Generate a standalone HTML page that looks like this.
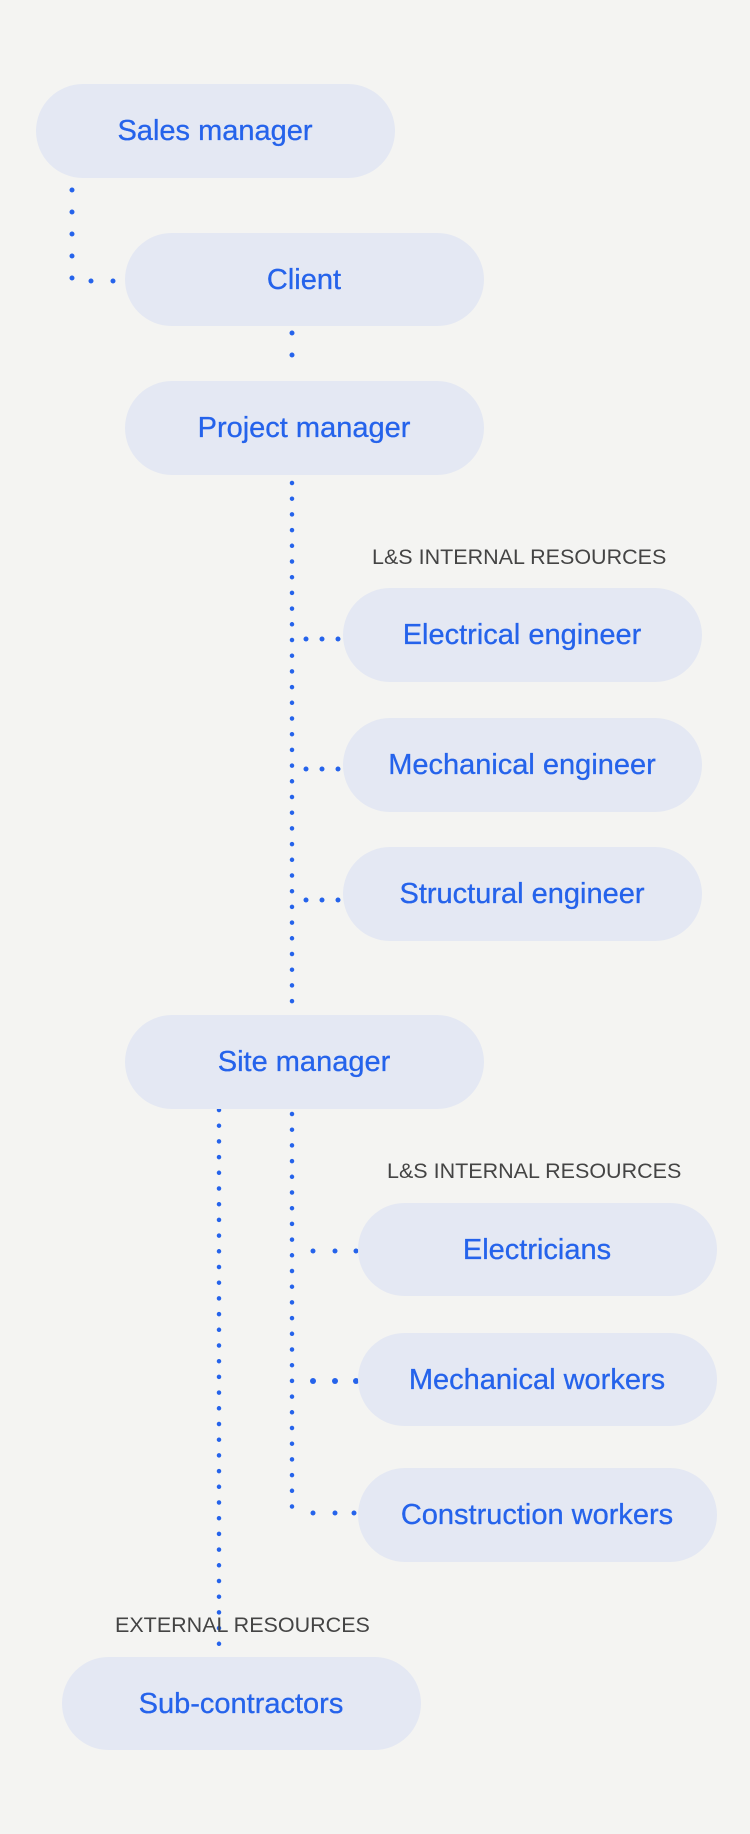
<!DOCTYPE html>
<html><head><meta charset="utf-8"><style>
html,body{margin:0;padding:0;background:#f4f4f2;}
svg{display:block}
.n{fill:#e4e8f3}
.t{font-family:"Liberation Sans",sans-serif;font-size:29px;fill:#2563eb;text-anchor:middle;dominant-baseline:central;stroke:#2563eb;stroke-width:0.3}
.l{font-family:"Liberation Sans",sans-serif;font-size:21.5px;fill:#444;text-anchor:start;dominant-baseline:central}
.d{stroke:#2563eb;stroke-width:5;stroke-linecap:round;stroke-dasharray:0 22;fill:none}
.v{stroke:#2563eb;stroke-width:4.5;stroke-linecap:round;stroke-dasharray:0 15.7;fill:none}
.c{fill:#2563eb}
</style></head><body>
<svg width="750" height="1834" viewBox="0 0 750 1834" xmlns="http://www.w3.org/2000/svg">
<rect width="750" height="1834" fill="#f4f4f2"/>
<!-- connectors -->
<path class="d" d="M72 190 V281 H117"/>
<path class="d" d="M292 333 V377"/>
<path class="v" d="M292 483 V1011"/>
<g class="c">
<circle cx="306" cy="639" r="2.5"/><circle cx="322" cy="639" r="2.5"/><circle cx="338" cy="639" r="2.5"/>
<circle cx="306" cy="769" r="2.5"/><circle cx="322" cy="769" r="2.5"/><circle cx="338" cy="769" r="2.5"/>
<circle cx="306" cy="900" r="2.5"/><circle cx="322" cy="900" r="2.5"/><circle cx="338" cy="900" r="2.5"/>
<circle cx="313" cy="1251" r="2.5"/><circle cx="335" cy="1251" r="2.5"/><circle cx="356" cy="1251" r="2.5"/>
<circle cx="313" cy="1381" r="3"/><circle cx="335" cy="1381" r="3"/><circle cx="356" cy="1381" r="3"/>
<circle cx="313" cy="1513" r="2.5"/><circle cx="335" cy="1513" r="2.5"/><circle cx="354" cy="1513" r="2.5"/>
</g>
<path class="v" d="M292 1114 V1513"/>
<path class="v" d="M219 1110 V1654"/>
<!-- nodes -->
<rect class="n" x="36" y="84" width="359" height="94" rx="47"/>
<text class="t" x="215" y="131">Sales manager</text>
<rect class="n" x="125" y="233" width="359" height="93" rx="46.5"/>
<text class="t" x="304" y="280">Client</text>
<rect class="n" x="125" y="381" width="359" height="94" rx="47"/>
<text class="t" x="304" y="428">Project manager</text>
<text class="l" x="372" y="557">L&amp;S INTERNAL RESOURCES</text>
<rect class="n" x="343" y="588" width="359" height="94" rx="47"/>
<text class="t" x="522" y="635">Electrical engineer</text>
<rect class="n" x="343" y="718" width="359" height="94" rx="47"/>
<text class="t" x="522" y="765">Mechanical engineer</text>
<rect class="n" x="343" y="847" width="359" height="94" rx="47"/>
<text class="t" x="522" y="894">Structural engineer</text>
<rect class="n" x="125" y="1015" width="359" height="94" rx="47"/>
<text class="t" x="304" y="1062">Site manager</text>
<text class="l" x="387" y="1171">L&amp;S INTERNAL RESOURCES</text>
<rect class="n" x="358" y="1203" width="359" height="93" rx="46.5"/>
<text class="t" x="537" y="1250">Electricians</text>
<rect class="n" x="358" y="1333" width="359" height="93" rx="46.5"/>
<text class="t" x="537" y="1380">Mechanical workers</text>
<rect class="n" x="358" y="1468" width="359" height="94" rx="47"/>
<text class="t" x="537" y="1515">Construction workers</text>
<text class="l" x="115" y="1625">EXTERNAL RESOURCES</text>
<rect class="n" x="62" y="1657" width="359" height="93" rx="46.5"/>
<text class="t" x="241" y="1704">Sub-contractors</text>
</svg>
</body></html>
